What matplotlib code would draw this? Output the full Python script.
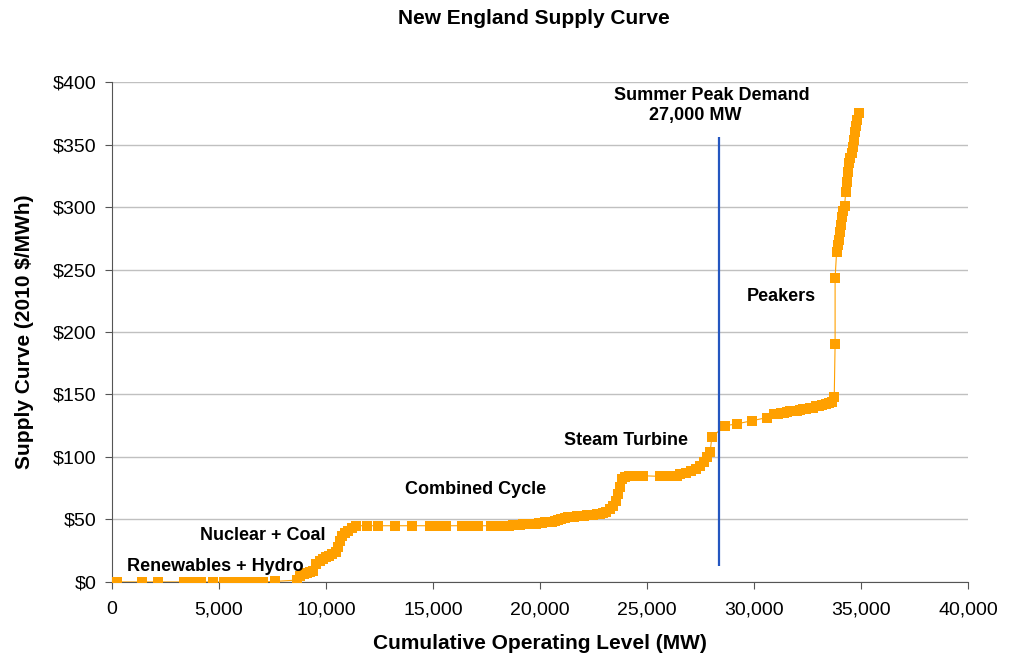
import matplotlib
matplotlib.use("Agg")
import matplotlib.pyplot as plt
from matplotlib.ticker import FuncFormatter, MultipleLocator

plt.rcParams['font.family'] = ['Liberation Sans', 'DejaVu Sans']

# Cumulative capacity (MW) and offer price ($/MWh), in merit order
renew_mw = [220, 1390, 2170, 3350, 3550, 3750, 3950, 4150, 4735,
            5250, 5450, 5650, 5850, 6050, 6250, 6450, 6650, 6850, 7050, 7620]
renew_price = [0, 0, 0, 0, 0, 0, 0, 0, 0,
               0, 0, 0, 0, 0, 0, 0, 0, 0, 0, 0.5]

nuke_coal_mw = [8650, 8800, 8950, 9100, 9250, 9400, 9550, 9700, 9850, 10000,
                10150, 10300, 10450, 10550, 10650, 10750, 10900, 11050, 11200, 11400]
nuke_coal_price = [1.5, 5, 6, 7, 8, 9, 14, 17, 18, 20,
                   21, 22, 24, 28, 33, 37, 39, 41, 43, 45]

cc_mw = [11900, 12450, 13225, 14000, 14850, 15100, 15350, 15600, 16350, 16600,
         16850, 17100, 17700, 18200, 18550, 18750, 18900, 19050, 19200, 19350,
         19500, 19650, 19800, 19950, 20100, 20250, 20400, 20550, 20700, 20850,
         21000, 21150, 21300, 21450, 21600, 21750, 21900, 22050, 22200, 22350,
         22500, 22650, 22800, 22950, 23100, 23250, 23400, 23550, 23650, 23750,
         23850]
cc_price = [45, 45, 45, 45, 45, 45, 45, 45, 45, 45,
            45, 45, 45, 45, 45, 45.5, 45.5, 45.7, 46, 46,
            46.3, 46.5, 46.7, 47, 47.3, 47.6, 48, 48.3, 49, 49.8,
            50.5, 51.2, 51.7, 52, 52.3, 52.6, 52.9, 53.1, 53.3, 53.5,
            53.7, 54, 54.5, 55, 56, 58, 61, 65, 70, 76,
            82]

steam_mw = [23950, 24150, 24350, 24550, 24800, 25600, 25800, 26000, 26200, 26400,
            26550, 26800, 27050, 27300, 27500, 27650, 27800, 27950, 28030]
steam_price = [84, 84.5, 84.7, 85, 85, 84.5, 84.5, 84.5, 84.7, 85,
               86, 87, 88.5, 90, 93, 96, 100, 104, 116]

upper_mw = [28650, 29200, 29900, 30600, 30950, 31100, 31250, 31400, 31550, 31700,
            31850, 32000, 32150, 32300, 32450, 32600, 32750, 32900, 33050, 33200,
            33350, 33500, 33650, 33750]
upper_price = [125, 126.5, 129, 131.5, 134, 134.5, 135, 135.5, 136, 136.5,
               137, 137, 137.5, 138, 138.5, 139, 139.5, 140.5, 141, 141.5,
               142.5, 143, 144, 148]

peaker_mw = [33790, 33790, 33860, 33920, 33980, 34030, 34080, 34130, 34180, 34230,
             34290, 34340, 34390, 34440, 34500, 34560, 34610, 34660, 34710, 34770,
             34830, 34900]
peaker_price = [190, 243, 264, 270, 274, 280, 286, 292, 297, 301,
                312, 320, 328, 335, 339, 343, 348, 354, 360, 365,
                370, 375]

supply_mw = renew_mw + nuke_coal_mw + cc_mw + steam_mw + upper_mw + peaker_mw
supply_price = renew_price + nuke_coal_price + cc_price + steam_price + upper_price + peaker_price

peak_demand_mw = 28350
peak_line_range = [13, 356]

labels = ["Renewables + Hydro", "Nuclear + Coal", "Combined Cycle",
          "Steam Turbine", "Peakers"]
label_x = [4850, 7060, 17000, 24000, 31300]
label_y = [12.5, 37.5, 74, 113, 228]

fig = plt.figure(figsize=(10.1, 6.63), dpi=100)
ax = fig.add_axes([0.1109, 0.1222, 0.8475, 0.7541])

ax.plot(supply_mw, supply_price, color='#FFA000', lw=0.8, marker='s',
        markersize=7, markeredgewidth=0, zorder=3)
ax.vlines(peak_demand_mw, *peak_line_range, color='#2456C0', lw=1.6, zorder=4)

for txt, x, y in zip(labels, label_x, label_y):
    ax.text(x, y, txt, ha='center', va='center', fontsize=13, fontweight='bold')
ax.text(28050, 389, "Summer Peak Demand", ha='center', va='center',
        fontsize=13, fontweight='bold')
ax.text(27250, 373, "27,000 MW", ha='center', va='center',
        fontsize=13, fontweight='bold')

ax.set_xlim(0, 40000)
ax.set_ylim(0, 400)
ax.xaxis.set_major_locator(MultipleLocator(5000))
ax.yaxis.set_major_locator(MultipleLocator(50))
ax.xaxis.set_major_formatter(FuncFormatter(lambda v, p: f"{int(v):,}"))
ax.yaxis.set_major_formatter(FuncFormatter(lambda v, p: f"${int(v)}"))
ax.tick_params(labelsize=14, direction='out', length=5, color='#555555')
ax.tick_params(axis='x', pad=9)
ax.tick_params(axis='y', pad=6)
ax.grid(axis='y', color='#C0C0C0', lw=1)
ax.set_axisbelow(True)
for s in ['top', 'right']:
    ax.spines[s].set_visible(False)
for s in ['left', 'bottom']:
    ax.spines[s].set_color('#555555')

ax.set_xlabel("Cumulative Operating Level (MW)", fontsize=15, fontweight='bold', labelpad=11)
ax.set_ylabel("Supply Curve (2010 $/MWh)", fontsize=15, fontweight='bold', labelpad=14)
fig.text(0.5285, 0.972, "New England Supply Curve", ha='center', va='center',
         fontsize=15, fontweight='bold')

fig.savefig("out.png", dpi=100)
